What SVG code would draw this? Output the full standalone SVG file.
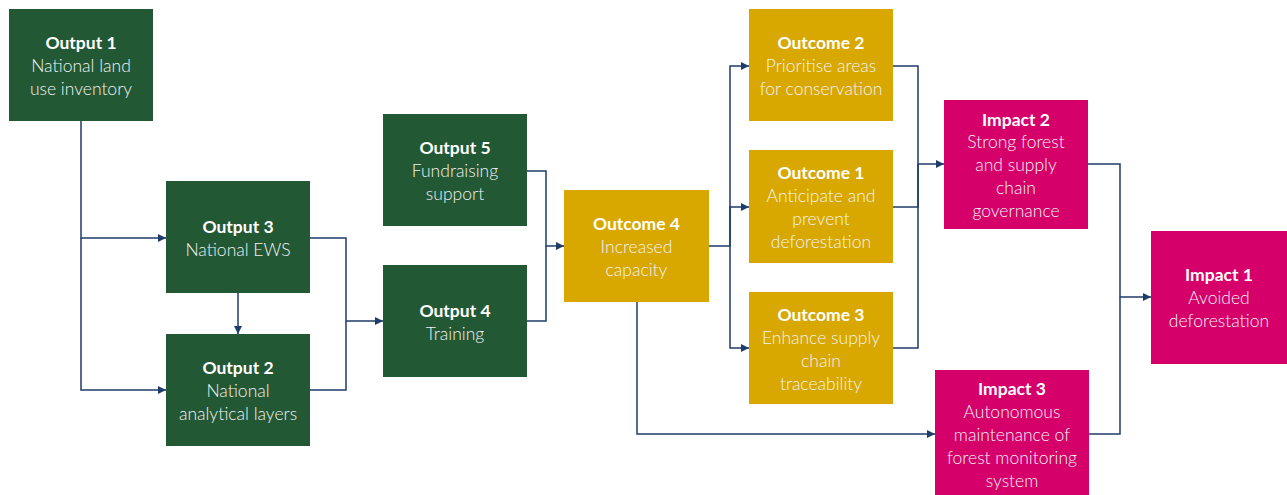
<svg xmlns="http://www.w3.org/2000/svg" width="1287" height="495" viewBox="0 0 1287 495">
  <style>
    .box { stroke: none; }
    .out { fill: #235835; }
    .oc { fill: #D8A800; }
    .imp { fill: #D6006B; }
    text { font-family: Lato, "Open Sans", "Liberation Sans", sans-serif; font-size: 17.5px; text-anchor: middle; }
    .t { font-weight: bold; fill: #ffffff; }
    .b { fill: #F2F2F2; font-weight: 300; }
    .wire { fill: none; stroke: #1F3D6B; stroke-width: 1.5; }
  </style>
  <defs>
    <marker id="arrow" markerUnits="userSpaceOnUse" markerWidth="9" markerHeight="8" refX="8" refY="4" orient="auto">
      <path d="M0 0 L8 4 L0 8 Z" fill="#1F3D6B"/>
    </marker>
  </defs>

  <g id="connectors">
    <path class="wire" d="M81 121 V238 H166" marker-end="url(#arrow)"/>
    <path class="wire" d="M81 238 V390 H166" marker-end="url(#arrow)"/>
    <path class="wire" d="M238 293 V334" marker-end="url(#arrow)"/>
    <path class="wire" d="M310 238 H346 V321 H383" marker-end="url(#arrow)"/>
    <path class="wire" d="M310 390 H346 V321"/>
    <path class="wire" d="M527 171 H546 V246 H564" marker-end="url(#arrow)"/>
    <path class="wire" d="M527 321 H546 V246"/>
    <path class="wire" d="M709 246 H730 V66 H749" marker-end="url(#arrow)"/>
    <path class="wire" d="M730 246 V207 H749" marker-end="url(#arrow)"/>
    <path class="wire" d="M730 246 V348 H749" marker-end="url(#arrow)"/>
    <path class="wire" d="M893 66 H918 V164 H944" marker-end="url(#arrow)"/>
    <path class="wire" d="M893 207 H918 V164"/>
    <path class="wire" d="M893 348 H918 V164"/>
    <path class="wire" d="M1088 164 H1120 V297 H1151" marker-end="url(#arrow)"/>
    <path class="wire" d="M1089 434 H1120 V297"/>
    <path class="wire" d="M637 302 V434 H935" marker-end="url(#arrow)"/>
  </g>

  <g id="output1">
    <rect class="box out" x="9" y="9" width="144" height="112"/>
    <text class="t" x="81" y="49">Output 1</text>
    <text class="b" x="81" y="72">National land</text>
    <text class="b" x="81" y="95">use inventory</text>
  </g>
  <g id="output3">
    <rect class="box out" x="166" y="181" width="144" height="112"/>
    <text class="t" x="238" y="233">Output 3</text>
    <text class="b" x="238" y="256">National EWS</text>
  </g>
  <g id="output2">
    <rect class="box out" x="166" y="334" width="144" height="112"/>
    <text class="t" x="238" y="374">Output 2</text>
    <text class="b" x="238" y="397">National</text>
    <text class="b" x="238" y="420">analytical layers</text>
  </g>
  <g id="output5">
    <rect class="box out" x="383" y="114" width="144" height="112"/>
    <text class="t" x="455" y="154">Output 5</text>
    <text class="b" x="455" y="177">Fundraising</text>
    <text class="b" x="455" y="200">support</text>
  </g>
  <g id="output4">
    <rect class="box out" x="383" y="265" width="144" height="112"/>
    <text class="t" x="455" y="317">Output 4</text>
    <text class="b" x="455" y="340">Training</text>
  </g>
  <g id="outcome4">
    <rect class="box oc" x="564" y="190" width="145" height="112"/>
    <text class="t" x="636.5" y="230">Outcome 4</text>
    <text class="b" x="636.5" y="253">Increased</text>
    <text class="b" x="636.5" y="276">capacity</text>
  </g>
  <g id="outcome2">
    <rect class="box oc" x="749" y="9" width="144" height="112"/>
    <text class="t" x="821" y="49">Outcome 2</text>
    <text class="b" x="821" y="72">Prioritise areas</text>
    <text class="b" x="821" y="95">for conservation</text>
  </g>
  <g id="outcome1">
    <rect class="box oc" x="749" y="150" width="144" height="113"/>
    <text class="t" x="821" y="179">Outcome 1</text>
    <text class="b" x="821" y="202">Anticipate and</text>
    <text class="b" x="821" y="225">prevent</text>
    <text class="b" x="821" y="248">deforestation</text>
  </g>
  <g id="outcome3">
    <rect class="box oc" x="749" y="292" width="144" height="112"/>
    <text class="t" x="821" y="321">Outcome 3</text>
    <text class="b" x="821" y="344">Enhance supply</text>
    <text class="b" x="821" y="367">chain</text>
    <text class="b" x="821" y="390">traceability</text>
  </g>
  <g id="impact2">
    <rect class="box imp" x="944" y="100" width="144" height="129"/>
    <text class="t" x="1016" y="126">Impact 2</text>
    <text class="b" x="1016" y="148">Strong forest</text>
    <text class="b" x="1016" y="171">and supply</text>
    <text class="b" x="1016" y="194">chain</text>
    <text class="b" x="1016" y="217">governance</text>
  </g>
  <g id="impact1">
    <rect class="box imp" x="1151" y="231" width="136" height="133"/>
    <text class="t" x="1219" y="281">Impact 1</text>
    <text class="b" x="1219" y="304">Avoided</text>
    <text class="b" x="1219" y="327">deforestation</text>
  </g>
  <g id="impact3">
    <rect class="box imp" x="935" y="370" width="154" height="125"/>
    <text class="t" x="1012" y="395">Impact 3</text>
    <text class="b" x="1012" y="418">Autonomous</text>
    <text class="b" x="1012" y="441">maintenance of</text>
    <text class="b" x="1012" y="464">forest monitoring</text>
    <text class="b" x="1012" y="487">system</text>
  </g>
</svg>
